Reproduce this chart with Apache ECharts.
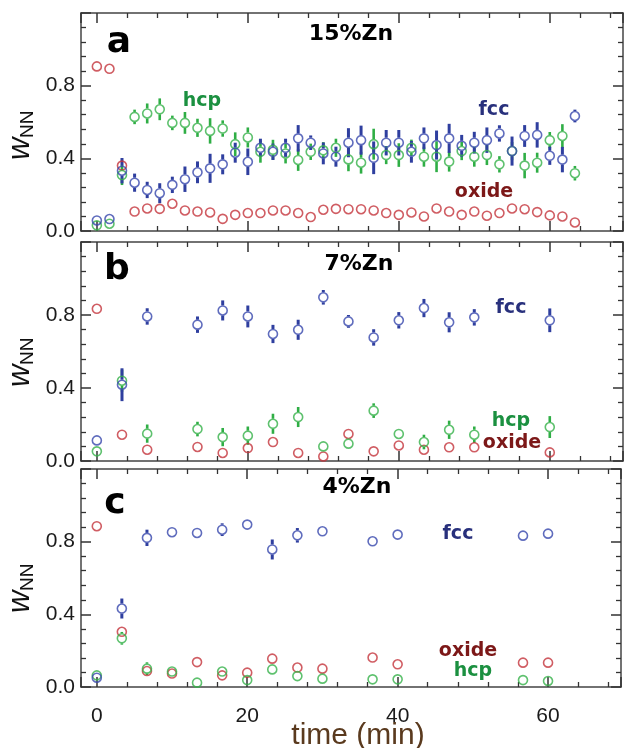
<!DOCTYPE html>
<html><head><meta charset="utf-8">
<script src="https://cdn.jsdelivr.net/npm/echarts@6/dist/echarts.min.js"></script>
<style>html,body{margin:0;padding:0;background:#fff}#c{width:624px;height:748px}</style>
</head><body><div id="c"></div>
<script>
// ---- Panel a (15%Zn) ----
const timeA = [0,1.67,3.33,5,6.67,8.33,10,11.67,13.33,15,16.67,18.33,20,21.67,23.33,25,26.67,28.33,30,31.67,33.33,35,36.67,38.33,40,41.67,43.33,45,46.67,48.33,50,51.67,53.33,55,56.67,58.33,60,61.67,63.33];
const oxideA = [0.906,0.893,0.36,0.107,0.124,0.122,0.15,0.113,0.107,0.102,0.067,0.089,0.099,0.099,0.113,0.113,0.099,0.077,0.117,0.122,0.12,0.12,0.113,0.099,0.089,0.102,0.08,0.124,0.107,0.089,0.107,0.084,0.099,0.124,0.12,0.104,0.086,0.08,0.047];
const fccA = [0.058,0.066,0.332,0.266,0.226,0.208,0.254,0.285,0.323,0.345,0.367,0.431,0.381,0.458,0.436,0.458,0.51,0.486,0.427,0.409,0.486,0.5,0.403,0.486,0.486,0.436,0.51,0.473,0.51,0.469,0.486,0.5,0.537,0.44,0.523,0.529,0.414,0.393,0.633];
const hcpA = [0.031,0.04,0.308,0.628,0.647,0.67,0.595,0.595,0.568,0.551,0.564,0.478,0.515,0.436,0.447,0.427,0.391,0.436,0.444,0.458,0.394,0.376,0.478,0.418,0.418,0.458,0.409,0.409,0.382,0.44,0.409,0.418,0.367,0.44,0.36,0.376,0.5,0.523,0.318];
const fccErrA = [0.02,0.02,0.07,0.05,0.045,0.055,0.045,0.07,0.06,0.08,0.055,0.055,0.073,0.05,0.045,0.05,0.073,0.04,0.06,0.055,0.08,0.08,0.09,0.07,0.07,0.06,0.06,0.08,0.08,0.06,0.06,0.07,0.045,0.08,0.06,0.07,0.05,0.07,0.035];
const hcpErrA = [0.015,0.015,0.055,0.04,0.055,0.06,0.04,0.06,0.05,0.07,0.045,0.065,0.055,0.06,0.055,0.055,0.06,0.045,0.045,0.05,0.065,0.06,0.085,0.05,0.065,0.045,0.055,0.085,0.055,0.05,0.055,0.055,0.045,0.05,0.07,0.055,0.045,0.065,0.04];

// ---- Panel b (7%Zn) ----
const timeB = [0,3.33,6.67,13.33,16.67,20,23.33,26.67,30,33.33,36.67,40,43.33,46.67,50,60];
const fccB = [0.113,0.418,0.792,0.747,0.825,0.792,0.696,0.719,0.897,0.765,0.677,0.771,0.838,0.76,0.787,0.771];
const hcpB = [0.053,0.44,0.15,0.175,0.131,0.139,0.204,0.241,0.08,0.095,0.276,0.148,0.104,0.171,0.144,0.186];
const oxideB = [0.834,0.144,0.062,0.077,0.044,0.071,0.104,0.044,0.025,0.148,0.053,0.085,0.062,0.075,0.075,0.047];
const fccErrB = [0.01,0.09,0.045,0.045,0.055,0.06,0.05,0.055,0.04,0.035,0.045,0.045,0.05,0.055,0.045,0.065];
const hcpErrB = [0.01,0.06,0.05,0.04,0.05,0.05,0.055,0.055,0.025,0.02,0.04,0.02,0.04,0.05,0.045,0.06];

// ---- Panel c (4%Zn) ----
const timeC = [0,3.33,6.67,10,13.33,16.67,20,23.33,26.67,30,36.67,40,56.67,60];
const fccC = [0.051,0.432,0.821,0.852,0.848,0.866,0.894,0.757,0.835,0.857,0.802,0.839,0.833,0.844];
const oxideC = [0.885,0.304,0.088,0.074,0.137,0.064,0.079,0.156,0.107,0.101,0.162,0.125,0.134,0.134];
const hcpC = [0.064,0.268,0.101,0.085,0.024,0.085,0.038,0.097,0.06,0.046,0.042,0.042,0.038,0.033];
const fccErrC = [0.02,0.055,0.045,0.01,0.01,0.035,0.015,0.055,0.04,0.01,0.01,0.01,0.01,0.01];
const hcpErrC = [0.01,0.035,0.035,0.01,0.01,0.01,0.01,0.01,0.01,0.01,0.01,0.01,0.01,0.01];

const xTickLabels = ['0','20','40','60'];
const yTickLabels = ['0.0','0.4','0.8'];

const RED = '#c4343c', BLUE = '#3747ad', GREEN = '#36b24a';
const BAR_BLUE = '#2f3f9f', BAR_GREEN = '#2fae45';
const SYM = 9;

const chart = echarts.init(document.getElementById('c'), null, {renderer:'canvas'});

const grids = [
  {left:81, top:13, width:542, height:218},
  {left:81, top:242, width:542, height:219},
  {left:81, top:469, width:542, height:218}
];

const xAxes = [], yAxes = [];
grids.forEach((g, i) => {
  ['bottom','top'].forEach(pos => {
    xAxes.push({
      type:'value', gridIndex:i, position:pos, min:-2.1, max:69.7, splitNumber:4,
      axisLine:{show:true, onZero:false, lineStyle:{color:'#444', width:1.5}},
      axisTick:{show:true, inside:true, length:10, lineStyle:{color:'#333', width:1.5}},
      minorTick:{show:true, splitNumber:5, length:5, lineStyle:{color:'#333', width:1.3}},
      splitLine:{show:false},
      axisLabel:{show: pos==='bottom' && i===2, margin:19, color:'#1a1a1a', fontSize:21, fontFamily:'Liberation Sans',
        formatter: v => { const k = Math.round(v/20); return (Math.abs(v - k*20) < 1e-6 && k>=0 && k<xTickLabels.length) ? xTickLabels[k] : ''; }}
    });
  });
  ['left','right'].forEach(pos => {
    yAxes.push({
      type:'value', gridIndex:i, position:pos, min:0, max:1.2, interval:0.4,
      axisLine:{show:true, onZero:false, lineStyle:{color:'#444', width:1.5}},
      axisTick:{show:true, inside:true, length:10, lineStyle:{color:'#333', width:1.5}},
      minorTick:{show:true, splitNumber:5, length:5, lineStyle:{color:'#333', width:1.3}},
      splitLine:{show:false},
      axisLabel:{show: pos==='left', margin:6, color:'#1a1a1a', fontSize:21, fontFamily:'Liberation Sans',
        formatter: v => { const k = Math.round(v/0.4); return (k < yTickLabels.length) ? yTickLabels[k] : ''; }}
    });
  });
});

function errSeries(panel, times, vals, errs, color, w) {
  return {
    type:'custom', xAxisIndex: panel*2, yAxisIndex: panel*2, z:2,
    data: times.map((t,j) => [t, vals[j], errs[j]]),
    renderItem: function(params, api) {
      const x = api.value(0), y = api.value(1), e = api.value(2);
      const c = api.coord([x,y]), hi = api.coord([x,y+e]), lo = api.coord([x,y-e]);
      const r = SYM/2 + 0.5;
      const ch = [];
      if (c[1]-hi[1] > r) ch.push({type:'line', shape:{x1:c[0],y1:hi[1],x2:c[0],y2:c[1]-r}, style:{stroke:color, lineWidth:w}});
      if (lo[1]-c[1] > r) ch.push({type:'line', shape:{x1:c[0],y1:c[1]+r,x2:c[0],y2:lo[1]}, style:{stroke:color, lineWidth:w}});
      return {type:'group', children:ch};
    }
  };
}
function ptSeries(panel, times, vals, color) {
  return {
    type:'scatter', xAxisIndex: panel*2, yAxisIndex: panel*2, z:3,
    symbol:'circle', symbolSize:SYM,
    itemStyle:{color:'rgba(255,255,255,0)', borderColor:color, borderWidth:1.6},
    data: times.map((t,j) => [t, vals[j]]), silent:true
  };
}

const series = [
  errSeries(0, timeA, hcpA, hcpErrA, BAR_GREEN, 2.6),
  errSeries(0, timeA, fccA, fccErrA, BAR_BLUE, 3),
  ptSeries(0, timeA, oxideA, RED),
  ptSeries(0, timeA, hcpA, GREEN),
  ptSeries(0, timeA, fccA, BLUE),
  errSeries(1, timeB, hcpB, hcpErrB, BAR_GREEN, 2.6),
  errSeries(1, timeB, fccB, fccErrB, BAR_BLUE, 3),
  ptSeries(1, timeB, oxideB, RED),
  ptSeries(1, timeB, hcpB, GREEN),
  ptSeries(1, timeB, fccB, BLUE),
  errSeries(2, timeC, hcpC, hcpErrC, BAR_GREEN, 2.6),
  errSeries(2, timeC, fccC, fccErrC, BAR_BLUE, 3),
  ptSeries(2, timeC, oxideC, RED),
  ptSeries(2, timeC, hcpC, GREEN),
  ptSeries(2, timeC, fccC, BLUE)
];

const LBL_FONT = 'bold 19px "DejaVu Sans"';
function txt(x, y, s, font, color) {
  return {type:'text', x:x, y:y, z:10, style:{text:s, font:font, fill:color, align:'center', verticalAlign:'middle'}};
}
function yName(yc) {
  return {type:'group', x:30, y:yc, rotation:Math.PI/2, z:10, children:[
    {type:'text', x:-25, y:-9.5, style:{text:'w', font:'italic 31px "Liberation Sans"', fill:'#111', align:'left', verticalAlign:'middle'}},
    {type:'text', x:-3, y:-2.5, style:{text:'NN', font:'19px "Liberation Sans"', fill:'#111', align:'left', verticalAlign:'middle'}}
  ]};
}
const FCC_C = '#28307c', HCP_C = '#1b9040', OX_C = '#7c1818';
const graphic = [
  txt(119, 43, 'a', 'bold 36px "DejaVu Sans"', '#000'),
  txt(351, 34, '15%Zn', 'bold 22px "DejaVu Sans"', '#000'),
  txt(202, 101, 'hcp', LBL_FONT, HCP_C),
  txt(494, 110, 'fcc', LBL_FONT, FCC_C),
  txt(484, 192, 'oxide', LBL_FONT, OX_C),
  txt(117, 270, 'b', 'bold 36px "DejaVu Sans"', '#000'),
  txt(359, 264, '7%Zn', 'bold 22px "DejaVu Sans"', '#000'),
  txt(511, 308, 'fcc', LBL_FONT, FCC_C),
  txt(511, 421, 'hcp', LBL_FONT, HCP_C),
  txt(512, 443, 'oxide', LBL_FONT, OX_C),
  txt(115, 504, 'c', 'bold 36px "DejaVu Sans"', '#000'),
  txt(357, 487, '4%Zn', 'bold 22px "DejaVu Sans"', '#000'),
  txt(458, 534, 'fcc', LBL_FONT, FCC_C),
  txt(468, 651, 'oxide', LBL_FONT, OX_C),
  txt(473, 671, 'hcp', LBL_FONT, HCP_C),
  txt(358, 736, 'time (min)', '30px "Liberation Sans"', '#5a3a1e'),
  yName(135), yName(362), yName(588)
];

chart.setOption({
  animation:false,
  backgroundColor:'#fff',
  grid: grids,
  xAxis: xAxes,
  yAxis: yAxes,
  series: series,
  graphic: graphic
});
</script></body></html>
